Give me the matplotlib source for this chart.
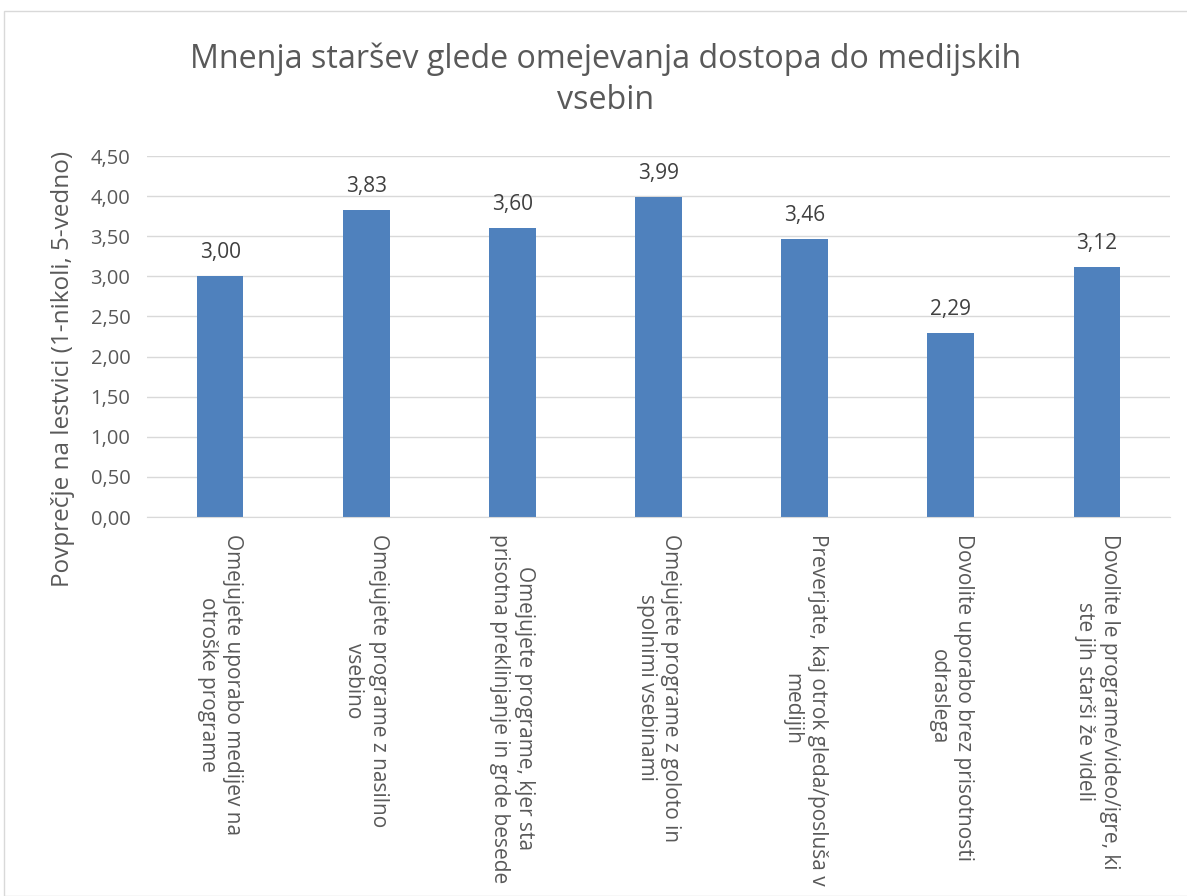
import matplotlib
matplotlib.use("Agg")
import matplotlib.pyplot as plt
from matplotlib.patches import Rectangle

categories = [
    "Omejujete uporabo medijev na\notroške programe",
    "Omejujete programe z nasilno\nvsebino",
    "Omejujete programe, kjer sta\nprisotna preklinjanje in grde besede",
    "Omejujete programe z goloto in\nspolnimi vsebinami",
    "Preverjate, kaj otrok gleda/posluša v\nmedijih",
    "Dovolite uporabo brez prisotnosti\nodraslega",
    "Dovolite le programe/video/igre, ki\nste jih starši že videli",
]
values = [3.00, 3.83, 3.60, 3.99, 3.46, 2.29, 3.12]
yticks = [0, 0.5, 1.0, 1.5, 2.0, 2.5, 3.0, 3.5, 4.0, 4.5]
title = "Mnenja staršev glede omejevanja dostopa do medijskih\nvsebin"
ylabel = "Povprečje na lestvici (1-nikoli, 5-vedno)"

plt.rcParams['font.family'] = ['Open Sans', 'DejaVu Sans']
txt = "#595959"
grid = "#D9D9D9"
bar_color = "#4F81BD"

fig = plt.figure(figsize=(11.87, 8.96), dpi=100)
fig.patches.append(Rectangle((4/1187, 0), 1.2, 1 - 11/896, transform=fig.transFigure,
                             fill=False, edgecolor="#D9D9D9", linewidth=1.0))
ax = fig.add_axes([147/1187, 1 - 517/896, 1023/1187, 361/896])

x = list(range(len(categories)))
bars = ax.bar(x, values, width=0.32, color=bar_color, zorder=3)
for xi, v in zip(x, values):
    ax.annotate(f"{v:.2f}".replace(".", ","), (xi, v), xytext=(0, 13), textcoords="offset points",
                ha="center", va="baseline", fontsize=15, color="#404040")

ax.set_xlim(-0.5, len(categories) - 0.5)
ax.set_ylim(0, 4.5)
ax.set_yticks(yticks)
ax.set_yticklabels([f"{t:.2f}".replace(".", ",") for t in yticks], fontsize=14.5, color=txt)
ax.set_xticks(x)
ax.set_xticklabels(categories, rotation=-90, ha="center", va="top", multialignment="center",
                   fontsize=15, color=txt, linespacing=1.25)
ax.tick_params(axis="both", length=0)
ax.tick_params(axis="x", pad=12)
ax.tick_params(axis="y", pad=12)
ax.grid(axis="y", color=grid, linewidth=1, zorder=0)
for s in ["top", "right", "left"]:
    ax.spines[s].set_visible(False)
ax.spines["bottom"].set_color(grid)
ax.spines["bottom"].set_zorder(4)
ax.set_ylabel(ylabel, fontsize=17.5, color=txt)
ax.yaxis.set_label_coords(-0.070, 0.41)
fig.text(606/1187, 1 - 80/896, title, ha="center", va="center", fontsize=23.2, color=txt, linespacing=1.3)

fig.savefig("out.png", dpi=100)
